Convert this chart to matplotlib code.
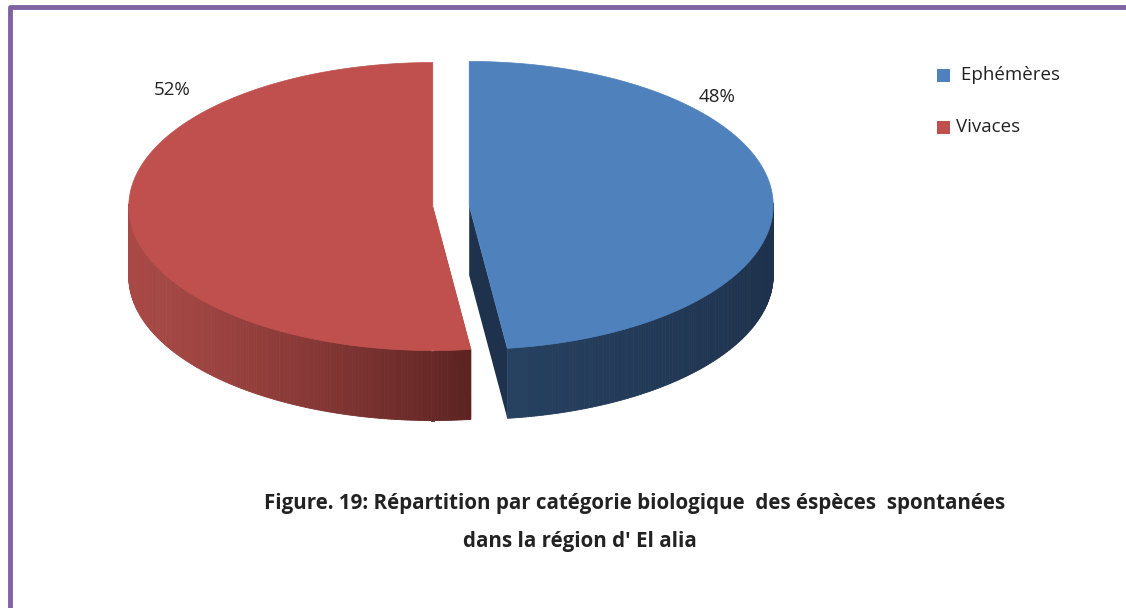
import numpy as np
import matplotlib.pyplot as plt
from matplotlib.patches import Polygon, Rectangle
from matplotlib.colors import to_rgb

labels = ['Ephémères', 'Vivaces']
legend_text = [' Ephémères', 'Vivaces']
values = [48, 52]
top_colors = ['#4F81BD', '#C0504D']
side_colors = [('#26405F', '#1E324D'), ('#A84946', '#5C2321')]

W, H = 1126, 608
cx, cy = 451, 206      # pie centre (pixels)
a, b = 304, 144        # ellipse semi-axes
depth = 70
explode = 0.06

fig = plt.figure(figsize=(W / 100, H / 100), dpi=100)
ax = fig.add_axes([0, 0, 1, 1])
ax.set_xlim(0, W)
ax.set_ylim(H, 0)
ax.axis('off')


def pt(theta, r, off, dz=0):
    return (cx + off[0] + a * r * np.cos(theta), cy + off[1] - b * r * np.sin(theta) + dz)


def mix(c1, c2, t):
    c1, c2 = np.array(to_rgb(c1)), np.array(to_rgb(c2))
    return tuple(c1 + (c2 - c1) * t)


total = sum(values)
start = 90.0
slices = []
for v in values:
    span = v / total * 360
    t1, t0 = np.radians(start), np.radians(start - span)
    mid = (t0 + t1) / 2
    off = (explode * a * np.cos(mid), -explode * b * np.sin(mid))
    slices.append((t0, t1, mid, off))
    start -= span

# side walls
for (t0, t1, mid, off), (c_light, c_dark) in zip(slices, side_colors):
    # radial cut faces
    for t in (t0, t1):
        p0, p1 = pt(t, 0, off), pt(t, 1, off)
        poly = [p0, p1, (p1[0], p1[1] + depth), (p0[0], p0[1] + depth)]
        ax.add_patch(Polygon(poly, closed=True, fc=c_dark, ec='none'))
    # outer wall (front part), gradient from left to right
    ths = np.linspace(min(t0, t1), max(t0, t1), 300)
    front = [t for t in ths if np.sin(t) < 0.02]
    xs = [pt(t, 1, off)[0] for t in front]
    xmin, xmax = min(xs), max(xs)
    for i in range(len(ths) - 1):
        ta, tb = ths[i], ths[i + 1]
        if np.sin((ta + tb) / 2) > 0.02:
            continue
        pa, pb = pt(ta, 1, off), pt(tb, 1, off)
        frac = ((pa[0] + pb[0]) / 2 - xmin) / (xmax - xmin)
        col = mix(c_light, c_dark, np.clip(frac, 0, 1) ** 1.3)
        poly = [pa, pb, (pb[0], pb[1] + depth), (pa[0], pa[1] + depth)]
        ax.add_patch(Polygon(poly, closed=True, fc=col, ec=col, lw=0.6))

# top faces
for (t0, t1, mid, off), col in zip(slices, top_colors):
    ths = np.linspace(t0, t1, 300)
    poly = [pt(0, 0, off)] + [pt(t, 1, off) for t in ths]
    ax.add_patch(Polygon(poly, closed=True, fc=col, ec=col, lw=0.5))

# percentage labels
pct_pos = [(717, 97), (172, 90)]
for v, (x, y) in zip(values, pct_pos):
    ax.text(x, y, f'{v}%', ha='center', va='center', fontsize=13.5,
            family='Open Sans', color='#222222')

# legend
leg_y = [75, 127]
for lab, col, y in zip(legend_text, top_colors, leg_y):
    ax.add_patch(Rectangle((937, y - 6), 13, 13, fc=col, ec='none'))
    ax.text(956, y, lab, ha='left', va='center', fontsize=13.5,
            family='Open Sans', color='#222222')

# title
ax.text(635, 504, "Figure. 19: Répartition par catégorie biologique  des éspèces  spontanées",
        ha='center', va='center', fontsize=14.8, fontweight='bold', family='Open Sans',
        color='#222222')
ax.text(580, 541, "dans la région d' El alia", ha='center', va='center', fontsize=14.8,
        fontweight='bold', family='Open Sans', color='#222222')

# frame
ax.plot([10, 10, W], [H, 7, 7], color='#8064A2', lw=3.5, solid_capstyle='butt')

fig.savefig('out.png', dpi=100)
